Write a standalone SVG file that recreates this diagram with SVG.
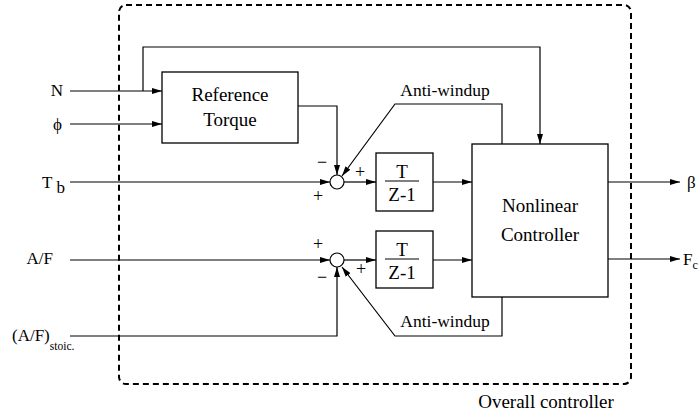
<svg xmlns="http://www.w3.org/2000/svg" width="700" height="420" viewBox="0 0 700 420">
<defs>
<marker id="ah" markerWidth="10" markerHeight="6" refX="10" refY="3" orient="auto" markerUnits="userSpaceOnUse">
<path d="M0,0 L10,3 L0,6 Z" fill="#000"/>
</marker>
<style>
.ln{fill:none;stroke:#000;stroke-width:1.2}
.bx{fill:#fff;stroke:#000;stroke-width:1.3}
text{font-family:'Liberation Serif','Times New Roman','DejaVu Serif',serif;fill:#000}
.in{font-size:17px}
.lb{font-size:19px}
.aw{font-size:17.5px}
.sg{font-size:18px}
</style>
</defs>
<rect width="700" height="420" fill="#fff"/>
<g id="boundary">
<rect x="119" y="5" width="512" height="379" rx="7" ry="7" fill="none" stroke="#000" stroke-width="2" stroke-dasharray="6,4"/>
<text class="lb" x="546" y="408" text-anchor="middle" font-family="Liberation Serif, serif">Overall controller</text>
</g>
<g id="connectors">
<polyline class="ln" points="70,91 162,91" marker-end="url(#ah)"/>
<polyline class="ln" points="143,91 143,47 540,47 540,144" marker-end="url(#ah)"/>
<polyline class="ln" points="70,124 162,124" marker-end="url(#ah)"/>
<polyline class="ln" points="298,106 337,106 337,175" marker-end="url(#ah)"/>
<polyline class="ln" points="70,182 330,182" marker-end="url(#ah)"/>
<polyline class="ln" points="344,182 376,182" marker-end="url(#ah)"/>
<polyline class="ln" points="433,182 472,182" marker-end="url(#ah)"/>
<polyline class="ln" points="502,144 502,104 395,104 342,176" marker-end="url(#ah)"/>
<polyline class="ln" points="70,260 330,260" marker-end="url(#ah)"/>
<polyline class="ln" points="344,260 376,260" marker-end="url(#ah)"/>
<polyline class="ln" points="433,260 472,260" marker-end="url(#ah)"/>
<polyline class="ln" points="70,336 337,336 337,267" marker-end="url(#ah)"/>
<polyline class="ln" points="502,297 502,336 395,336 342,267" marker-end="url(#ah)"/>
<polyline class="ln" points="608,182 680,182" marker-end="url(#ah)"/>
<polyline class="ln" points="608,259 680,259" marker-end="url(#ah)"/>
</g>
<g id="inputs" font-family="Liberation Serif, serif">
<text class="in" x="63" y="96" text-anchor="end">N</text>
<text class="in" x="62" y="130" text-anchor="end">ϕ</text>
<text class="in" x="42" y="188">T<tspan dx="4" dy="5">b</tspan></text>
<text class="in" x="53" y="264" text-anchor="end">A/F</text>
<text class="in" x="12" y="341">(A/F)<tspan font-size="11.5" dy="9">stoic.</tspan></text>
</g>
<g id="outputs" font-family="Liberation Serif, serif">
<text class="in" x="687" y="188">β</text>
<text class="in" x="683" y="265">F<tspan font-size="12" dy="4">c</tspan></text>
</g>
<g id="ref_torque" font-family="Liberation Serif, serif">
<rect class="bx" x="162" y="72" width="136" height="71"/>
<text class="lb" x="230" y="101" text-anchor="middle">Reference</text>
<text class="lb" x="230" y="126" text-anchor="middle">Torque</text>
</g>
<g id="sum1" font-family="Liberation Serif, serif">
<circle cx="337" cy="182" r="7" fill="#fff" stroke="#000" stroke-width="1.2"/>
<text class="sg" x="322" y="168" text-anchor="middle">−</text>
<text class="sg" x="360" y="178" text-anchor="middle">+</text>
<text class="sg" x="318" y="202" text-anchor="middle">+</text>
</g>
<g id="sum2" font-family="Liberation Serif, serif">
<circle cx="337" cy="260" r="7" fill="#fff" stroke="#000" stroke-width="1.2"/>
<text class="sg" x="318" y="250" text-anchor="middle">+</text>
<text class="sg" x="322" y="283" text-anchor="middle">−</text>
<text class="sg" x="361" y="275" text-anchor="middle">+</text>
</g>
<g id="integrator1" font-family="Liberation Serif, serif">
<rect class="bx" x="376" y="153" width="57" height="58"/>
<text class="lb" x="402" y="178" text-anchor="middle">T</text>
<line x1="385" y1="181" x2="419" y2="181" stroke="#000" stroke-width="1"/>
<text class="lb" x="402" y="201" text-anchor="middle">Z-1</text>
</g>
<g id="integrator2" font-family="Liberation Serif, serif">
<rect class="bx" x="376" y="231" width="57" height="57"/>
<text class="lb" x="402" y="256" text-anchor="middle">T</text>
<line x1="385" y1="259" x2="419" y2="259" stroke="#000" stroke-width="1"/>
<text class="lb" x="402" y="279" text-anchor="middle">Z-1</text>
</g>
<g id="nonlinear_controller" font-family="Liberation Serif, serif">
<rect class="bx" x="472" y="144" width="136" height="153"/>
<text class="lb" x="540" y="212" text-anchor="middle">Nonlinear</text>
<text class="lb" x="540" y="241" text-anchor="middle">Controller</text>
</g>
<g id="labels" font-family="Liberation Serif, serif">
<text class="aw" x="445" y="96" text-anchor="middle">Anti-windup</text>
<text class="aw" x="445" y="327" text-anchor="middle">Anti-windup</text>
</g>
</svg>
